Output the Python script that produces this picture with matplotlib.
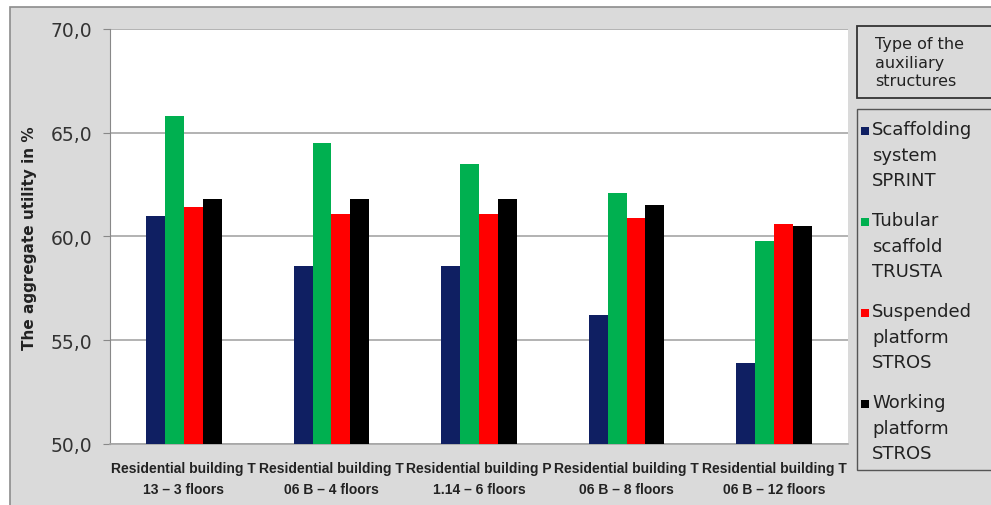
import numpy as np
import matplotlib
matplotlib.use('agg')
import matplotlib.pyplot as plt
from matplotlib.patches import Rectangle

# chart data
categories = ['Residential building T\n13 \u2013 3 floors',
              'Residential building T\n06 B \u2013 4 floors',
              'Residential building P\n1.14 \u2013 6 floors',
              'Residential building T\n06 B \u2013 8 floors',
              'Residential building T\n06 B \u2013 12 floors']
series_names = ['Scaffolding\nsystem\nSPRINT',
                'Tubular\nscaffold\nTRUSTA',
                'Suspended\nplatform\nSTROS',
                'Working\nplatform\nSTROS']
sprint = [61.0, 58.6, 58.6, 56.2, 53.9]
trusta = [65.8, 64.5, 63.5, 62.1, 59.8]
stros_suspended = [61.4, 61.1, 61.1, 60.9, 60.6]
stros_working = [61.8, 61.8, 61.8, 61.5, 60.5]
y_ticks = [50, 55, 60, 65, 70]
legend_title = 'Type of the\nauxiliary\nstructures'

colors = ['#0f1f62', '#00b050', '#ff0000', '#000000']
W, H = 991, 506

fig = plt.figure(figsize=(W / 100, H / 100), dpi=100, facecolor='white')

# gray chart background with border
fig.patches.append(Rectangle((10 / W, -0.1), 1.2, (H - 8) / H + 0.1,
                             transform=fig.transFigure, facecolor='#dadada',
                             edgecolor='#8c8c8c', linewidth=1.2, zorder=-10))

ax = fig.add_axes([110 / W, (H - 445) / H, 738 / W, 415 / H])
ax.set_zorder(1)
ax.set_facecolor('white')

x = np.arange(len(categories))
w = 0.128
values = [sprint, trusta, stros_suspended, stros_working]
for i, vals in enumerate(values):
    ax.bar(x + (i - 1.5) * w, vals, width=w, color=colors[i], zorder=3)

ax.set_xlim(-0.5, len(categories) - 0.5)
ax.set_ylim(50, 70)
ax.set_yticks(y_ticks)
ax.set_yticklabels([f'{v:.1f}'.replace('.', ',') for v in y_ticks],
                   fontsize=13.5, color='#333333')
ax.yaxis.grid(True, color='#a6a6a6', linewidth=1.2, zorder=0)
ax.tick_params(axis='y', length=5, color='#888888', pad=8)
ax.set_xticks(x)
ax.set_xticklabels(categories, fontsize=10, fontweight='bold', color='#222222',
                   family=['Liberation Sans Narrow', 'Liberation Sans'], linespacing=1.65)
ax.tick_params(axis='x', length=0, pad=12)
for s in ['top', 'right']:
    ax.spines[s].set_visible(False)
ax.spines['left'].set_color('#888888')
ax.spines['bottom'].set_color('#a6a6a6')
ax.spines['bottom'].set_linewidth(1.2)

fig.text(30 / W, 1 - 238 / H, 'The aggregate utility in %', rotation=90,
         ha='center', va='center', fontsize=11, fontweight='bold', color='#222222')

# legend title box
fig.patches.append(Rectangle((857 / W, 1 - 99 / H), 140 / W, 72 / H,
                             transform=fig.transFigure, facecolor='#dadada',
                             edgecolor='#333333', linewidth=1.3))
fig.text(875 / W, 1 - 37 / H, legend_title, ha='left', va='top', fontsize=11.5,
         color='#222222', linespacing=1.3)

# legend box
fig.patches.append(Rectangle((857 / W, 1 - 471 / H), 140 / W, 361 / H,
                             transform=fig.transFigure, facecolor='#dadada',
                             edgecolor='#555555', linewidth=1.0))
for i, name in enumerate(series_names):
    top = 121 + i * 91
    fig.patches.append(Rectangle((861 / W, 1 - (top + 15) / H), 8 / W, 8 / H,
                                 transform=fig.transFigure, facecolor=colors[i],
                                 edgecolor='none'))
    fig.text(872 / W, 1 - top / H, name, ha='left', va='top', fontsize=13,
             color='#222222', linespacing=1.55)

plt.savefig('out.png', dpi=100, facecolor=fig.get_facecolor())
plt.close()
